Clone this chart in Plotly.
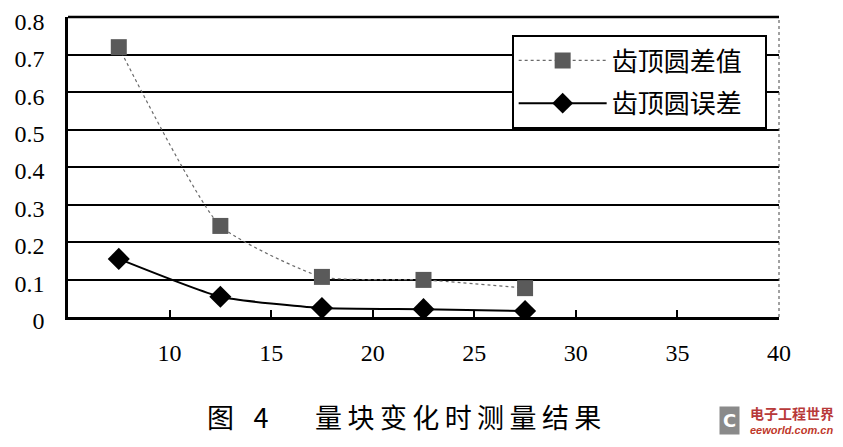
import plotly.graph_objects as go

block_x = [7.5, 12.5, 17.5, 22.5, 27.5]
diff_vals = [0.72, 0.243, 0.107, 0.099, 0.077]   # 齿顶圆差值
err_vals = [0.155, 0.054, 0.024, 0.021, 0.016]   # 齿顶圆误差

y_ticks = [0, 0.1, 0.2, 0.3, 0.4, 0.5, 0.6, 0.7, 0.8]
y_labels = ["0", "0.1", "0.2", "0.3", "0.4", "0.5", "0.6", "0.7", "0.8"]
x_ticks = [10, 15, 20, 25, 30, 35, 40]

SERIF = "Liberation Serif"
CJK = "Noto Sans CJK SC"
PAD = "\u00a0\u00a0\u00a0"

fig = go.Figure()

fig.add_trace(go.Scatter(
    x=block_x, y=diff_vals, name="齿顶圆差值" + PAD, legendgroup="a",
    mode="lines+markers",
    line=dict(color="#6a6a6a", width=1.2, dash="dot",
              shape="spline", smoothing=0.5),
    marker=dict(symbol="square", size=16, color="#5a5a5a")))

fig.add_trace(go.Scatter(
    x=block_x, y=err_vals, name="齿顶圆误差" + PAD, legendgroup="b",
    mode="lines+markers",
    line=dict(color="black", width=2, shape="spline", smoothing=0.5),
    marker=dict(symbol="diamond", size=17, color="black")))

# the page body adds an 8px offset, so the figure is sized to fit the window
fig.update_layout(
    width=835, height=439,
    margin=dict(l=60, r=64, t=9, b=130),
    paper_bgcolor="white", plot_bgcolor="white",
    showlegend=True,
    legend=dict(
        x=0.624, y=0.94, xanchor="left", yanchor="top",
        bgcolor="white", bordercolor="black", borderwidth=2,
        font=dict(family=CJK, size=26, color="black"),
        itemwidth=88, tracegroupgap=6),
    xaxis=dict(
        range=[5, 40], tickvals=x_ticks, automargin=False,
        showgrid=False, zeroline=False,
        showline=True, linecolor="black", linewidth=2.5,
        ticks="inside", ticklen=7, tickwidth=1.5, tickcolor="black",
        ticklabelstandoff=12,
        tickfont=dict(family=SERIF, size=24, color="black")),
    yaxis=dict(
        range=[0, 0.8005], tickvals=y_ticks, ticktext=y_labels,
        automargin=False, ticklabeloverflow="allow",
        ticklabelshift=4,
        showgrid=True, gridcolor="black", gridwidth=2,
        zeroline=False,
        showline=True, linecolor="black", linewidth=2.5,
        ticks="", ticklabelstandoff=16,
        tickfont=dict(family=SERIF, size=24, color="black")),
)

# thick top border and thin dashed right border of the plot area
fig.add_shape(type="line", xref="paper", yref="paper",
              x0=0, x1=1, y0=1, y1=1,
              line=dict(color="black", width=2.5))
fig.add_shape(type="line", xref="paper", yref="paper",
              x0=1, x1=1, y0=0, y1=1,
              line=dict(color="#444", width=1, dash="dot"))

# caption under the chart
caption = "图\u2002\u00a04\u3000\u2002\u00a0" + "\u2009".join("量块变化时测量结果")
fig.add_annotation(
    text=caption,
    xref="paper", yref="paper", x=0.193, y=-0.333,
    xanchor="left", yanchor="middle", showarrow=False,
    font=dict(family=CJK, size=27, color="black"))

# watermark bottom right
fig.add_annotation(
    text="<b>电子工程世界</b>", xref="paper", yref="paper",
    x=0.956, y=-0.32, xanchor="left", yanchor="middle", showarrow=False,
    font=dict(family=CJK, size=14, color="#b83a3a"))
fig.add_annotation(
    text="<i><b>eeworld.com.cn</b></i>", xref="paper", yref="paper",
    x=0.956, y=-0.375, xanchor="left", yanchor="middle", showarrow=False,
    font=dict(family="Liberation Sans", size=11, color="#c0392b"))
fig.add_annotation(
    text="<b>C</b>", xref="paper", yref="paper",
    x=0.93, y=-0.345, xanchor="center", yanchor="middle", showarrow=False,
    bgcolor="#8a8a8a", borderpad=3,
    font=dict(family="DejaVu Sans", size=18, color="white"))

fig.write_html("out.html")
